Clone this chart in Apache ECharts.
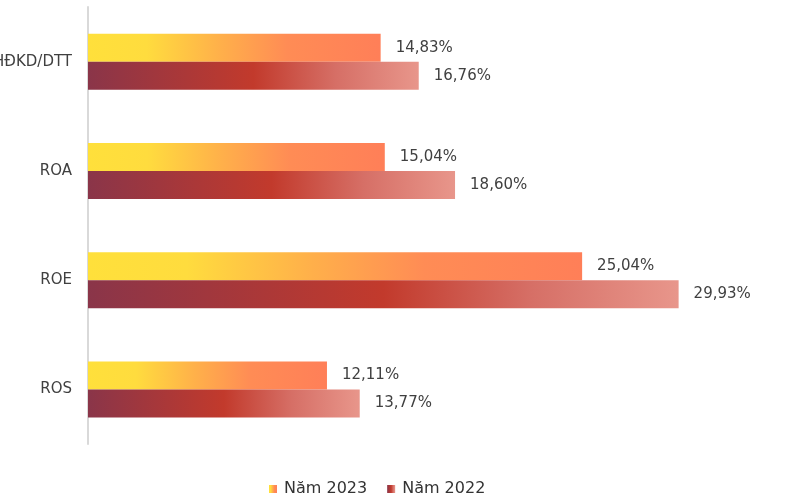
<!DOCTYPE html>
<html>
<head>
<meta charset="utf-8">
<script src="https://cdn.jsdelivr.net/npm/echarts@6/dist/echarts.min.js"></script>
<style>
  html, body { margin: 0; padding: 0; background: #fff; }
  #chart { width: 789px; height: 502px; }
</style>
</head>
<body>
<div id="chart"></div>
<script>
// Financial ratios, bottom-to-top category order
const categories = ['ROS', 'ROE', 'ROA', 'LNHĐKD/DTT'];
const values2023 = [12.11, 25.04, 15.04, 14.83];
const values2022 = [13.77, 29.93, 18.60, 16.76];
const seriesNames = ['Năm 2023', 'Năm 2022'];

const FONT = '"DejaVu Sans", sans-serif';

const grad2023 = new echarts.graphic.LinearGradient(0, 0, 1, 0, [
  { offset: 0, color: '#FFE03B' },
  { offset: 0.2, color: '#FFDC3E' },
  { offset: 0.45, color: '#FFB04A' },
  { offset: 0.68, color: '#FF8C55' },
  { offset: 1, color: '#FF7F58' }
]);
const grad2022 = new echarts.graphic.LinearGradient(0, 0, 1, 0, [
  { offset: 0, color: '#8A3549' },
  { offset: 0.5, color: '#C23A2C' },
  { offset: 0.75, color: '#D66F66' },
  { offset: 1, color: '#E8968B' }
]);

const fmt = v => v.toFixed(2).replace('.', ',') + '%';

const labelStyle = {
  show: true,
  position: 'right',
  distance: 15,
  formatter: p => fmt(p.value),
  fontFamily: FONT,
  fontSize: 15,
  color: '#404040'
};

const chart = echarts.init(document.getElementById('chart'));
chart.setOption({
  animation: false,
  textStyle: { fontFamily: FONT },
  grid: { left: 88, top: 7, width: 592, height: 437, outerBoundsMode: 'none', containLabel: false },
  legend: {
    top: 476,
    left: 264,
    data: seriesNames,
    itemWidth: 8,
    itemHeight: 8,
    itemGap: 20,
    icon: 'rect',
    textStyle: { fontFamily: FONT, fontSize: 16, color: '#333', padding: [0, 0, 0, 2] }
  },
  xAxis: {
    type: 'value',
    min: 0,
    max: 30,
    show: false,
    splitLine: { show: false }
  },
  yAxis: {
    type: 'category',
    data: categories,
    axisLine: { show: true, lineStyle: { color: '#D9D9D9', width: 2 } },
    axisTick: { show: false },
    axisLabel: { fontFamily: FONT, fontSize: 15, color: '#404040', margin: 16 }
  },
  series: [
    {
      name: seriesNames[0],
      type: 'bar',
      data: values2023,
      barWidth: 28,
      barGap: '0%',
      itemStyle: { color: grad2023 },
      label: labelStyle
    },
    {
      name: seriesNames[1],
      type: 'bar',
      data: values2022,
      barWidth: 28,
      barGap: '0%',
      itemStyle: { color: grad2022 },
      label: labelStyle
    }
  ]
});
</script>
</body>
</html>
